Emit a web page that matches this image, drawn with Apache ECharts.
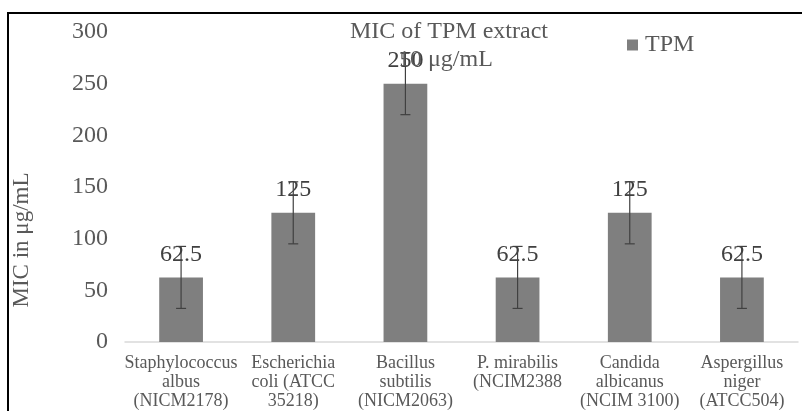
<!DOCTYPE html>
<html>
<head>
<meta charset="utf-8">
<script src="https://cdn.jsdelivr.net/npm/echarts@6/dist/echarts.min.js"></script>
<style>
  html, body { margin: 0; padding: 0; background: #fff; }
  #chart { width: 802px; height: 411px; }
</style>
</head>
<body>
<div id="chart"></div>
<script>
// data
const categories = [
    'Staphylococcus\nalbus\n(NICM2178)',
    'Escherichia\ncoli (ATCC\n35218)',
    'Bacillus\nsubtilis\n(NICM2063)',
    'P. mirabilis\n(NCIM2388',
    'Candida\nalbicanus\n(NCIM 3100)',
    'Aspergillus\nniger\n(ATCC504)'
]
const tpmValues = [62.5, 125, 250, 62.5, 125, 62.5]
const tpmErrors = [30, 30, 30, 30, 30, 30]

const serif = '"Liberation Serif", "Times New Roman", serif'
const textColor = '#595959'

const chart = echarts.init(document.getElementById('chart'))

const errData = tpmValues.map((v, i) => [i, v - tpmErrors[i], v + tpmErrors[i]])

const option = {
    animation: false,
    title: [
        {
            text: 'MIC of TPM extract',
            left: 350,
            top: 20,
            padding: 0,
            textStyle: { fontFamily: serif, fontSize: 24, fontWeight: 'normal', color: textColor }
        },
        {
            text: '10 μg/mL',
            left: 398,
            top: 48,
            padding: 0,
            textStyle: { fontFamily: serif, fontSize: 24, fontWeight: 'normal', color: textColor }
        }
    ],
    legend: {
        left: 627,
        top: 33,
        padding: 0,
        icon: 'rect',
        itemWidth: 11,
        itemHeight: 11,
        itemGap: 6,
        data: ['TPM'],
        textStyle: { fontFamily: serif, fontSize: 24, color: textColor, padding: [0, 0, 0, 2] }
    },
    grid: {
        left: 125,
        right: 4,
        top: 32,
        bottom: 69
    },
    xAxis: {
        type: 'category',
        data: categories,
        axisLine: { lineStyle: { color: '#d9d9d9', width: 1.5 } },
        axisTick: { show: false },
        axisLabel: {
            interval: 0,
            margin: 12,
            fontFamily: serif,
            fontSize: 18,
            lineHeight: 19,
            color: textColor
        }
    },
    yAxis: {
        type: 'value',
        min: 0,
        max: 300,
        interval: 50,
        splitLine: { show: false },
        axisLine: { show: false },
        axisTick: { show: false },
        axisLabel: {
            margin: 17,
            fontFamily: serif,
            fontSize: 24,
            color: textColor
        }
    },
    graphic: [
        {
            type: 'rect',
            shape: { x: 8, y: 13, width: 810, height: 420 },
            style: { fill: 'none', stroke: '#000', lineWidth: 2 },
            silent: true
        },
        {
            type: 'text',
            x: 22,
            y: 240,
            rotation: Math.PI / 2,
            style: {
                text: 'MIC in μg/mL',
                fontFamily: serif,
                fontSize: 23,
                fill: textColor,
                align: 'center',
                verticalAlign: 'middle'
            }
        }
    ],
    series: [
        {
            name: 'TPM',
            type: 'bar',
            data: tpmValues,
            barWidth: '39%',
            itemStyle: { color: '#7f7f7f' },
            label: {
                show: true,
                position: 'top',
                distance: 11,
                fontFamily: serif,
                fontSize: 24,
                color: '#404040'
            },
            z: 2
        },
        {
            type: 'custom',
            name: 'error',
            data: errData,
            encode: { x: 0, y: [1, 2] },
            z: 5,
            renderItem: (params, api) => {
                const lo = api.coord([api.value(0), api.value(1)])
                const hi = api.coord([api.value(0), api.value(2)])
                const w = 5
                const style = { stroke: '#404040', lineWidth: 1.2 }
                return {
                    type: 'group',
                    children: [
                        { type: 'line', shape: { x1: lo[0], y1: lo[1], x2: hi[0], y2: hi[1] }, style },
                        { type: 'line', shape: { x1: lo[0] - w, y1: lo[1], x2: lo[0] + w, y2: lo[1] }, style },
                        { type: 'line', shape: { x1: hi[0] - w, y1: hi[1], x2: hi[0] + w, y2: hi[1] }, style }
                    ]
                }
            }
        }
    ]
}

chart.setOption(option)
</script>
</body>
</html>
